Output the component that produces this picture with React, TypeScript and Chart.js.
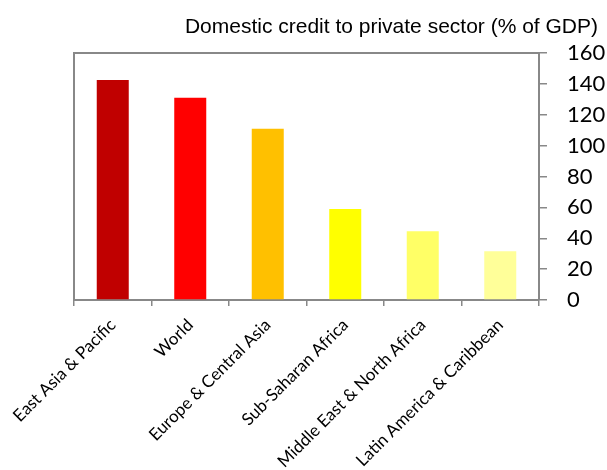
import React, { useEffect, useRef } from "react";
import { Chart, registerables } from "chart.js";

Chart.register(...registerables);

const categories = [
  "East Asia & Pacific",
  "World",
  "Europe & Central Asia",
  "Sub-Saharan Africa",
  "Middle East & North Africa",
  "Latin America & Caribbean",
];
const creditValues = [142.5, 131, 111, 59, 44.5, 31.5];
const barColors = ["#C00000", "#FF0000", "#FFC000", "#FFFF00", "#FFFF66", "#FFFF99"];
const chartTitle = "Domestic credit to private sector (% of GDP)";

const AXIS_GRAY = "#888888";

const framePlugin = {
  id: "framePlugin",
  afterDraw(chart: any) {
    const { ctx, chartArea } = chart;
    ctx.save();
    ctx.strokeStyle = AXIS_GRAY;
    ctx.lineWidth = 2;
    ctx.beginPath();
    ctx.moveTo(chartArea.left, chartArea.bottom);
    ctx.lineTo(chartArea.left, chartArea.top);
    ctx.lineTo(chartArea.right, chartArea.top);
    ctx.stroke();
    ctx.fillStyle = "#000";
    ctx.font = "21px 'Liberation Sans', Arial, sans-serif";
    ctx.textAlign = "right";
    ctx.textBaseline = "alphabetic";
    ctx.fillText(chartTitle, 598, 33);
    ctx.restore();
  },
};

export default function App() {
  const canvasRef = useRef<HTMLCanvasElement | null>(null);

  useEffect(() => {
    if (!canvasRef.current) return;
    const chart = new Chart(canvasRef.current, {
      type: "bar",
      data: {
        labels: categories,
        datasets: [
          {
            data: creditValues,
            backgroundColor: barColors,
            borderWidth: 0,
            categoryPercentage: 0.413,
            barPercentage: 1,
          },
        ],
      },
      options: {
        responsive: false,
        animation: false,
        layout: { padding: { top: 53, left: 74, right: 0, bottom: 0 } },
        plugins: {
          legend: { display: false },
          title: { display: false },
          tooltip: { enabled: false },
        },
        scales: {
          x: {
            offset: true,
            grid: {
              offset: true,
              drawOnChartArea: false,
              tickLength: 6,
              color: AXIS_GRAY,
              lineWidth: 1.5,
            },
            border: { color: AXIS_GRAY, width: 2 },
            ticks: {
              autoSkip: false,
              minRotation: 45,
              maxRotation: 45,
              padding: 9,
              color: "#000",
              font: { family: "Lato, 'Open Sans', sans-serif", size: 17 },
            },
            afterFit(scale: any) {
              scale.height = 170;
            },
          },
          y: {
            position: "right",
            min: 0,
            max: 160,
            ticks: {
              stepSize: 20,
              padding: 20,
              color: "#000",
              font: { family: "Lato, 'Open Sans', sans-serif", size: 22 },
            },
            grid: {
              drawOnChartArea: false,
              tickLength: 8,
              color: AXIS_GRAY,
              lineWidth: 1.5,
            },
            border: { color: AXIS_GRAY, width: 2 },
            afterFit(scale: any) {
              scale.width = 68;
            },
          },
        },
      },
      plugins: [framePlugin],
    });
    return () => chart.destroy();
  }, []);

  return (
    <div style={{ position: "absolute", left: 0, top: 0, width: 607, height: 470, background: "#fff" }}>
      <canvas ref={canvasRef} width={607} height={470} />
    </div>
  );
}
